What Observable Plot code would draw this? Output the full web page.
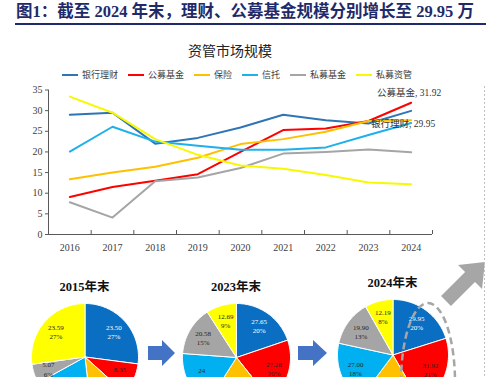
<!DOCTYPE html>
<html><head><meta charset="utf-8">
<script src="https://cdn.jsdelivr.net/npm/d3@7"></script>
<script src="https://cdn.jsdelivr.net/npm/@observablehq/plot@0.6"></script>
<style>
body{margin:0;background:#fff;}
#wrap{position:relative;width:486px;height:377px;overflow:hidden;font-family:"Liberation Serif","Noto Sans CJK SC",serif;color:#262626;}
.abs{position:absolute;}
#heading{left:16px;top:2px;font-size:16.5px;line-height:20px;font-weight:bold;color:#1F2A6B;white-space:nowrap;}
#rule{left:15px;top:23px;width:471px;height:2px;background:#1F2A6B;}
#ctitle{left:0;width:460px;top:41px;text-align:center;font-size:14px;line-height:18px;color:#222;font-family:"Noto Sans CJK SC",serif;}
#legend{left:62px;top:69px;display:flex;gap:10px;font-size:9px;line-height:12px;color:#404040;white-space:nowrap;}
#legend .it{display:flex;align-items:center;gap:4px;}
.ptitle{font-size:12.5px;font-weight:bold;line-height:16px;text-align:center;width:100px;white-space:nowrap;color:#111;}
</style></head><body>
<div id="wrap">
  <div id="heading" class="abs">图1：截至 2024 年末，理财、公募基金规模分别增长至 29.95 万</div>
  <div id="rule" class="abs"></div>
  <div id="ctitle" class="abs">资管市场规模</div>
  <div id="legend" class="abs"></div>
</div>
<script>
// ---- data ----
const years = [2016, 2017, 2018, 2019, 2020, 2021, 2022, 2023, 2024];
const seriesNames = ["银行理财", "公募基金", "保险", "信托", "私募基金", "私募资管"];
const bank      = [29.0, 29.5, 22.0, 23.4, 25.9, 29.0, 27.7, 26.9, 29.95];
const fund      = [9.1, 11.5, 13.0, 14.6, 20.0, 25.3, 25.7, 27.5, 31.92];
const insurance = [13.4, 15.0, 16.4, 18.6, 21.9, 23.1, 24.9, 27.5, 27.7];
const trust     = [20.1, 26.1, 22.5, 21.5, 20.5, 20.5, 21.1, 24.1, 27.0];
const pfund     = [7.8, 4.1, 12.9, 13.8, 16.1, 19.6, 20.0, 20.6, 19.9];
const pam       = [33.4, 29.5, 23.1, 19.3, 16.7, 15.9, 14.4, 12.6, 12.19];
const yTicks = [0, 5, 10, 15, 20, 25, 30, 35];
const lineColors = ["#2E75B6", "#FF0000", "#FFC000", "#1FB0EC", "#A5A5A5", "#F8F800"];
const pieColors  = ["#0A6EC2", "#FF0000", "#FFC000", "#00B0F0", "#A5A5A5", "#FFFF00"];

const pie2015Values = [23.50, 8.35, 10.0, 16.3, 5.07, 23.59];
const pie2015Labels = ["23.50", "8.35", "10.00", "16.30", "5.07", "23.59"];
const pie2023Values = [27.65, 27.26, 27.5, 24, 20.58, 12.69];
const pie2023Labels = ["27.65", "27.26", "27.50", "24", "20.58", "12.69"];
const pie2024Values = [29.95, 31.92, 27.7, 27.00, 19.90, 12.19];
const pie2024Labels = ["29.95", "31.92", "27.70", "27.00", "19.90", "12.19"];
const pieTitles = ["2015年末", "2023年末", "2024年末"];

const allSeries = [bank, fund, insurance, trust, pfund, pam];
const rows = [];
seriesNames.forEach((s, k) => years.forEach((yr, i) => rows.push({series: s, year: yr, value: allSeries[k][i]})));
const boundaries = [...years.map(y => y - 0.5), years[years.length - 1] + 0.5];
const last = years.length - 1;
const fundNote = [{year: years[last], value: fund[last], label: `${seriesNames[1]}, ${fund[last].toFixed(2)}`}];
const bankNote = [{year: years[last], value: bank[last], label: `${seriesNames[0]}, ${bank[last].toFixed(2)}`}];

const wrap = document.getElementById("wrap");
const font = '"Liberation Serif","Noto Sans CJK SC",serif';

// legend
const legend = document.getElementById("legend");
seriesNames.forEach((s, k) => {
  const it = document.createElement("div");
  it.className = "it";
  it.innerHTML = `<svg width="16" height="4"><line x1="0" x2="16" y1="2" y2="2" stroke="${lineColors[k]}" stroke-width="2"/></svg><span>${s}</span>`;
  legend.appendChild(it);
});

// main line chart
const main = Plot.plot({
  width: 486, height: 175,
  marginLeft: 48, marginRight: 54, marginTop: 7.5, marginBottom: 23,
  x: {domain: [boundaries[0], boundaries[boundaries.length - 1]], axis: null},
  y: {domain: [0, 35], axis: null},
  color: {domain: seriesNames, range: lineColors},
  style: {fontFamily: font, fontSize: "10px", color: "#404040", background: "transparent", overflow: "visible"},
  marks: [
    Plot.axisY({ticks: yTicks, tickSize: 3, tickPadding: 3, label: null, stroke: "#595959"}),
    Plot.axisX({ticks: years, tickSize: 0, tickPadding: 9, tickFormat: d => String(d), label: null}),
    Plot.axisX({ticks: boundaries, tickSize: 4, dy: -4, tickFormat: () => "", label: null, stroke: "#595959"}),
    Plot.ruleY([0], {stroke: "#595959"}),
    Plot.ruleX([boundaries[0]], {stroke: "#595959"}),
    Plot.line(rows, {x: "year", y: "value", z: "series", stroke: "series", strokeWidth: 2}),
    Plot.text(fundNote, {x: "year", y: "value", text: "label", dx: 30, dy: -10, textAnchor: "end", fontSize: 9.5, fill: "#333"}),
    Plot.text(bankNote, {x: "year", y: "value", text: "label", dx: 24, dy: 13, textAnchor: "end", fontSize: 9.5, fill: "#333"})
  ]
});
main.style.position = "absolute";
main.style.left = "0px";
main.style.top = "82px";
wrap.appendChild(main);

// pies
function pie(values, labels, title, cx, cy, R) {
  const total = d3.sum(values);
  let acc = 0;
  const polys = [], texts = [];
  values.forEach((v, k) => {
    const a0 = acc / total * 2 * Math.PI; acc += v; const a1 = acc / total * 2 * Math.PI;
    const n = Math.max(2, Math.ceil((a1 - a0) / 0.03));
    polys.push({s: seriesNames[k], x: 0, y: 0});
    for (let j = 0; j <= n; j++) { const a = a0 + (a1 - a0) * j / n; polys.push({s: seriesNames[k], x: Math.sin(a), y: Math.cos(a)}); }
    polys.push({s: seriesNames[k], x: 0, y: 0});
    const am = (a0 + a1) / 2;
    texts.push({k, x: 0.72 * Math.sin(am), y: 0.72 * Math.cos(am), text: labels[k] + "\n" + Math.round(v / total * 100) + "%"});
  });
  const p = Plot.plot({
    width: 2 * R + 4, height: 2 * R + 4, margin: 2,
    x: {domain: [-1, 1], axis: null}, y: {domain: [-1, 1], axis: null},
    color: {domain: seriesNames, range: pieColors},
    style: {fontFamily: font, background: "transparent", overflow: "visible"},
    marks: [
      Plot.line(polys, {x: "x", y: "y", z: "s", fill: "s", stroke: "white", strokeWidth: 1, strokeLinejoin: "round"}),
      Plot.text(texts, {filter: d => d.k === 0, x: "x", y: "y", text: "text", fill: "white", fontSize: 7, lineHeight: 1.3}),
      Plot.text(texts, {filter: d => d.k !== 0, x: "x", y: "y", text: "text", fill: "#262626", fontSize: 7, lineHeight: 1.3})
    ]
  });
  p.style.position = "absolute";
  p.style.left = (cx - R - 2) + "px";
  p.style.top = (cy - R - 2) + "px";
  wrap.appendChild(p);
  const t = document.createElement("div");
  t.className = "abs ptitle";
  t.textContent = title;
  t.style.left = (cx - 50) + "px";
  t.style.top = (cy - R - 24) + "px";
  wrap.appendChild(t);
}
pie(pie2015Values, pie2015Labels, pieTitles[0], 84.5, 356.5, 53.5);
pie(pie2023Values, pie2023Labels, pieTitles[1], 236, 357, 54);
pie(pie2024Values, pie2024Labels, pieTitles[2], 392.5, 354.5, 55.5);

// decorations
const deco = document.createElementNS("http://www.w3.org/2000/svg", "svg");
deco.setAttribute("width", 486); deco.setAttribute("height", 377);
deco.setAttribute("class", "abs");
deco.style.left = "0px"; deco.style.top = "0px";
deco.innerHTML = `
 <polygon fill="#4472C4" points="148,346 162,346 162,340 175,353 162,366 162,360 148,360"/>
 <polygon fill="#4472C4" points="298,346 313,346 313,340 327,353 313,366 313,360 298,360"/>
 <g transform="translate(446,301) rotate(-45)"><polygon fill="#A6A6A6" points="0,-7 34,-7 34,-17 55,0 34,17 34,7 0,7"/></g>
 <ellipse cx="428" cy="382" rx="27" ry="79" fill="none" stroke="#A6A6A6" stroke-width="2.5" stroke-dasharray="7,4"/>
 <line x1="484.5" y1="86" x2="484.5" y2="377" stroke="#BFBFBF" stroke-dasharray="2,2"/>`;
wrap.appendChild(deco);
</script>
</body></html>
